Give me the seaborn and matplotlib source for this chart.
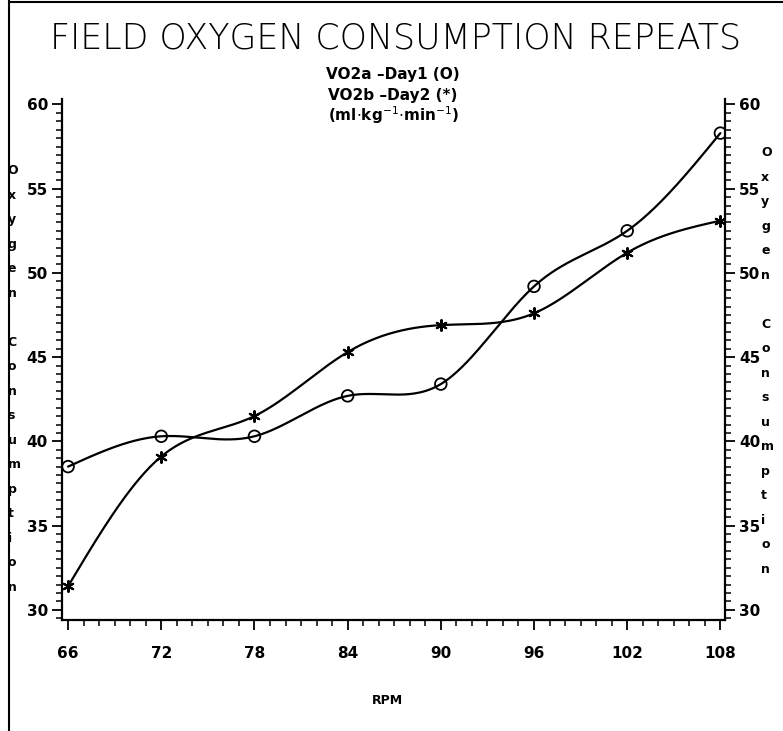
import numpy as np
import pandas as pd
import matplotlib
matplotlib.use("Agg")
import matplotlib.pyplot as plt
import seaborn as sns
from matplotlib.lines import Line2D
from matplotlib.ticker import MultipleLocator

# values
rpm = [66, 72, 78, 84, 90, 96, 102, 108]
vo2_day1 = [38.5, 40.3, 40.3, 42.7, 43.4, 49.2, 52.5, 58.3]
vo2_day2 = [31.4, 39.1, 41.5, 45.3, 46.9, 47.6, 51.2, 53.1]

title = "FIELD OXYGEN CONSUMPTION REPEATS"
legend_lines = ["VO2a \u2013Day1 (O)", "VO2b \u2013Day2 (*)",
                r"(ml$\cdot$kg$^{-1}$$\cdot$min$^{-1}$)"]
y_label = "Oxygen Consumption"
x_label = "RPM"


def natural_spline(x, y, xs):
    """Natural cubic spline, same look as the SAS I=SPLINE curves."""
    x = np.asarray(x, float)
    y = np.asarray(y, float)
    n = len(x)
    h = np.diff(x)
    A = np.zeros((n, n))
    rhs = np.zeros(n)
    A[0, 0] = A[-1, -1] = 1
    for i in range(1, n - 1):
        A[i, i - 1] = h[i - 1]
        A[i, i] = 2 * (h[i - 1] + h[i])
        A[i, i + 1] = h[i]
        rhs[i] = 3 * ((y[i + 1] - y[i]) / h[i] - (y[i] - y[i - 1]) / h[i - 1])
    c = np.linalg.solve(A, rhs)
    seg = np.clip(np.searchsorted(x, xs) - 1, 0, n - 2)
    dx = xs - x[seg]
    b = (y[seg + 1] - y[seg]) / h[seg] - h[seg] * (2 * c[seg] + c[seg + 1]) / 3
    d = (c[seg + 1] - c[seg]) / (3 * h[seg])
    return y[seg] + b * dx + c[seg] * dx ** 2 + d * dx ** 3


sns.set_style("ticks")
plt.rcParams['font.family'] = ['DejaVu Sans']

fig = plt.figure(figsize=(7.83, 7.31), dpi=100)
ax = fig.add_axes([0.079, 0.152, 0.847, 0.712])

xs = np.linspace(rpm[0], rpm[-1], 400)
curves = pd.DataFrame({
    "rpm": np.concatenate([xs, xs]),
    "vo2": np.concatenate([natural_spline(rpm, vo2_day1, xs),
                           natural_spline(rpm, vo2_day2, xs)]),
    "day": ["Day1"] * len(xs) + ["Day2"] * len(xs),
})
sns.lineplot(data=curves, x="rpm", y="vo2", units="day", estimator=None,
             color="black", lw=1.6, ax=ax, legend=False)

sns.scatterplot(x=rpm, y=vo2_day1, marker="o", s=70, facecolors="none",
                edgecolor="black", linewidth=1.3, ax=ax, zorder=3)
sns.scatterplot(x=rpm, y=vo2_day2, marker=(6, 2, 0), s=60, color="black",
                linewidth=1.5, ax=ax, zorder=3)

ax.set_xlim(65.6, 108.3)
ax.set_ylim(29.4, 60.3)
ax.set_xticks(rpm)
ax.set_yticks(range(30, 61, 5))
ax.xaxis.set_minor_locator(MultipleLocator(1))
ax.yaxis.set_minor_locator(MultipleLocator(0.5))
ax.tick_params(axis="both", which="major", length=7, width=1.3,
               labelsize=11, direction="out", colors="black")
ax.tick_params(axis="both", which="minor", length=4, width=1.1,
               direction="out", colors="black")
ax.tick_params(axis="y", right=True, labelright=True, which="both", pad=3)
for lab in ax.get_xticklabels() + ax.get_yticklabels():
    lab.set_fontweight("bold")
ax.xaxis.set_tick_params(pad=12)

for side in ["left", "right", "bottom"]:
    ax.spines[side].set_visible(True)
    ax.spines[side].set_linewidth(1.6)
    ax.spines[side].set_color("black")
ax.spines["top"].set_visible(False)
ax.set_xlabel("")
ax.set_ylabel("")

fig.text(0.505, 0.948, title, ha="center", va="center", fontsize=25,
         fontweight="light", color="black")
for i, line in enumerate(legend_lines):
    fig.text(0.502, 0.898 - i * 0.028, line, ha="center", va="center",
             fontsize=11, fontweight="bold", color="black")
fig.text(0.495, 0.042, x_label, ha="center", va="center", fontsize=9,
         fontweight="bold", color="black")

stacked = "\n".join(y_label)
fig.text(0.010, 0.775, stacked, ha="left", va="top", fontsize=9,
         fontweight="bold", linespacing=2.15, color="black")
fig.text(0.972, 0.800, stacked, ha="left", va="top", fontsize=9,
         fontweight="bold", linespacing=2.15, color="black")

# scan frame: left border and top edge
fig.add_artist(Line2D([0.011, 0.011], [0.0, 1.0], color="black", lw=1.5,
                      transform=fig.transFigure))
fig.add_artist(Line2D([0.011, 1.0], [0.997, 0.997], color="black", lw=1.5,
                      transform=fig.transFigure))

fig.savefig("out.png", dpi=100)
